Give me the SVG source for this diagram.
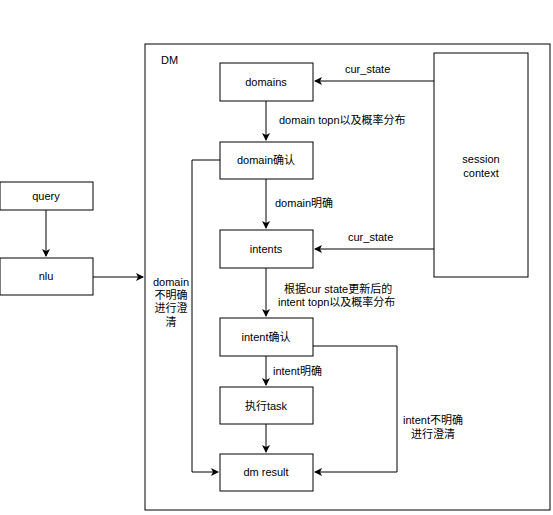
<svg xmlns="http://www.w3.org/2000/svg" width="553" height="515" viewBox="0 0 553 515">
<style>
.box{fill:#fff;stroke:#000;stroke-width:1}
.ln{fill:none;stroke:#000;stroke-width:1}
text{font-family:"Liberation Sans","Noto Sans CJK SC",sans-serif;font-size:11px;fill:#000}
.c{text-anchor:middle}
</style>
<defs>
<marker id="ah" markerWidth="10" markerHeight="10" refX="8" refY="5" orient="auto" markerUnits="userSpaceOnUse">
<path d="M1,1 L9,5 L1,9 L3,5 Z" fill="#000"/>
</marker>
</defs>
<rect width="553" height="515" fill="#fff"/>
<g id="dm-container">
<rect class="box" x="145" y="44" width="405" height="466"/>
<text x="161" y="64">DM</text>
</g>
<g id="query"><rect class="box" x="0" y="182" width="93" height="28"/><text class="c" x="46" y="200">query</text></g>
<g id="nlu"><rect class="box" x="0" y="258" width="93" height="37"/><text class="c" x="46" y="280">nlu</text></g>
<g id="domains"><rect class="box" x="220" y="63" width="93" height="38"/><text class="c" x="266" y="86">domains</text></g>
<g id="domain-confirm"><rect class="box" x="220" y="142" width="93" height="37"/><text class="c" x="266" y="164">domain确认</text></g>
<g id="session-context"><rect class="box" x="434" y="53" width="94" height="224"/><text class="c" x="481" y="163">session</text><text class="c" x="481" y="177">context</text></g>
<g id="intents"><rect class="box" x="220" y="230" width="93" height="38"/><text class="c" x="266" y="253">intents</text></g>
<g id="intent-confirm"><rect class="box" x="220" y="318" width="93" height="38"/><text class="c" x="266" y="341">intent确认</text></g>
<g id="exec-task"><rect class="box" x="220" y="387" width="93" height="37"/><text class="c" x="266" y="410">执行task</text></g>
<g id="dm-result"><rect class="box" x="220" y="454" width="93" height="37"/><text class="c" x="266" y="476">dm result</text></g>
<g id="connectors">
<path class="ln" d="M46,210 V256" marker-end="url(#ah)"/>
<path class="ln" d="M93,277 H143" marker-end="url(#ah)"/>
<path class="ln" d="M434,81 H315" marker-end="url(#ah)"/>
<path class="ln" d="M434,249 H315" marker-end="url(#ah)"/>
<path class="ln" d="M266,101 V140" marker-end="url(#ah)"/>
<path class="ln" d="M266,179 V228" marker-end="url(#ah)"/>
<path class="ln" d="M266,268 V316" marker-end="url(#ah)"/>
<path class="ln" d="M266,356 V385" marker-end="url(#ah)"/>
<path class="ln" d="M266,424 V452" marker-end="url(#ah)"/>
<path class="ln" d="M220,160 H192 V472 H218" marker-end="url(#ah)"/>
<path class="ln" d="M313,346 H397 V472 H315" marker-end="url(#ah)"/>
<text x="345" y="73">cur_state</text>
<text x="348" y="241">cur_state</text>
<text x="279" y="124">domain topn以及概率分布</text>
<text x="275" y="207">domain明确</text>
<text x="284" y="293">根据cur state更新后的</text>
<text x="278" y="306">intent topn以及概率分布</text>
<text x="273" y="375">intent明确</text>
<text class="c" x="171" y="286">domain</text>
<text class="c" x="171" y="299">不明确</text>
<text class="c" x="171" y="312">进行澄</text>
<text class="c" x="171" y="326">清</text>
<text class="c" x="433" y="424">intent不明确</text>
<text class="c" x="433" y="438">进行澄清</text>
</g>
</svg>
